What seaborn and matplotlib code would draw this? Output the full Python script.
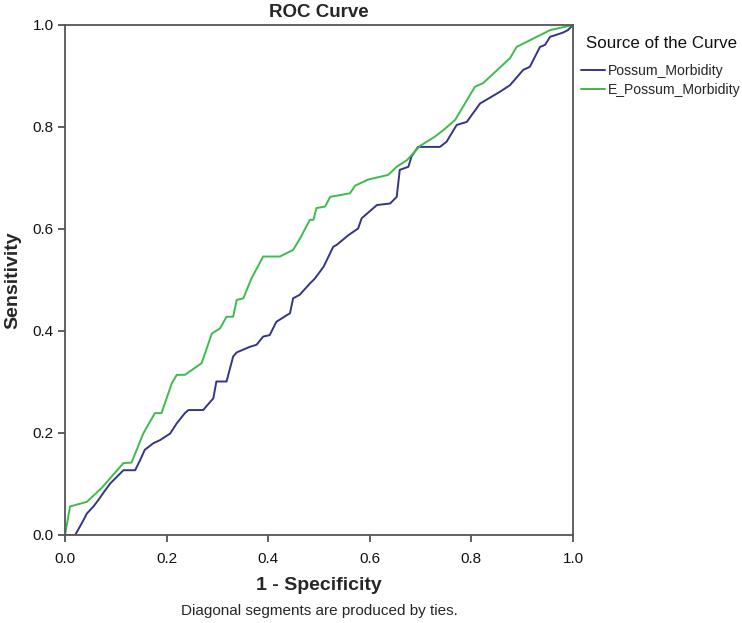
import numpy as np
import pandas as pd
import matplotlib
matplotlib.use("Agg")
import matplotlib.pyplot as plt
import seaborn as sns

# ---- data ----
possum_fpr = [0.0, 0.020, 0.033, 0.043, 0.056, 0.066, 0.075, 0.089, 0.102, 0.115, 0.138, 0.148,
              0.157, 0.174, 0.187, 0.207, 0.220, 0.236, 0.243, 0.272, 0.292, 0.298, 0.318, 0.331,
              0.338, 0.364, 0.377, 0.390, 0.403, 0.416, 0.443, 0.449, 0.462, 0.482, 0.492, 0.509,
              0.528, 0.535, 0.558, 0.577, 0.584, 0.614, 0.640, 0.653, 0.659, 0.676, 0.682, 0.695,
              0.738, 0.751, 0.771, 0.791, 0.801, 0.817, 0.856, 0.876, 0.902, 0.915, 0.935, 0.945,
              0.955, 0.965, 0.980, 0.990, 1.0]
possum_tpr = [0.0, 0.0, 0.023, 0.042, 0.056, 0.069, 0.082, 0.101, 0.114, 0.127, 0.127, 0.147,
              0.167, 0.180, 0.186, 0.199, 0.219, 0.239, 0.245, 0.245, 0.268, 0.301, 0.301, 0.350,
              0.358, 0.369, 0.373, 0.389, 0.392, 0.418, 0.435, 0.464, 0.471, 0.493, 0.503, 0.526,
              0.565, 0.569, 0.588, 0.601, 0.621, 0.647, 0.650, 0.663, 0.716, 0.722, 0.742, 0.761,
              0.761, 0.771, 0.804, 0.810, 0.824, 0.846, 0.869, 0.882, 0.912, 0.918, 0.957, 0.961,
              0.977, 0.980, 0.985, 0.990, 1.0]

e_possum_fpr = [0.0, 0.010, 0.043, 0.072, 0.115, 0.131, 0.154, 0.177, 0.190, 0.210, 0.220, 0.236,
                0.269, 0.289, 0.305, 0.318, 0.331, 0.338, 0.351, 0.367, 0.390, 0.423, 0.449, 0.463,
                0.482, 0.489, 0.495, 0.512, 0.522, 0.561, 0.571, 0.597, 0.636, 0.653, 0.673, 0.699,
                0.728, 0.745, 0.768, 0.807, 0.823, 0.876, 0.889, 0.955, 1.0]
e_possum_tpr = [0.0, 0.056, 0.065, 0.092, 0.141, 0.142, 0.199, 0.239, 0.239, 0.297, 0.314, 0.314,
                0.337, 0.395, 0.405, 0.428, 0.428, 0.461, 0.464, 0.503, 0.546, 0.546, 0.559, 0.582,
                0.618, 0.618, 0.641, 0.644, 0.663, 0.670, 0.685, 0.697, 0.706, 0.722, 0.735, 0.763,
                0.781, 0.794, 0.814, 0.879, 0.886, 0.935, 0.957, 0.990, 1.0]

series_names = ["Possum_Morbidity", "E_Possum_Morbidity"]
series_colors = ["#34348a", "#3dbb4c"]
tick_values = [0.0, 0.2, 0.4, 0.6, 0.8, 1.0]
tick_labels = ["0.0", "0.2", "0.4", "0.6", "0.8", "1.0"]

df = pd.concat([
    pd.DataFrame({"fpr": possum_fpr, "tpr": possum_tpr, "Source": series_names[0]}),
    pd.DataFrame({"fpr": e_possum_fpr, "tpr": e_possum_tpr, "Source": series_names[1]}),
], ignore_index=True)

sns.set_theme(style="white")
plt.rcParams["font.family"] = ["Liberation Sans", "DejaVu Sans"]

W, H = 742, 623
fig = plt.figure(figsize=(W / 100, H / 100), dpi=100)
ax = fig.add_axes([65 / W, 1 - 535 / H, 508 / W, 510 / H])

sns.lineplot(data=df, x="fpr", y="tpr", hue="Source", hue_order=series_names,
             palette=dict(zip(series_names, series_colors)), sort=False, estimator=None,
             units="Source", linewidth=1.4, ax=ax)

ax.set_xlim(0, 1)
ax.set_ylim(0, 1)
ax.set_xticks(tick_values)
ax.set_xticklabels(tick_labels)
ax.set_yticks(tick_values)
ax.set_yticklabels(tick_labels)
ax.tick_params(axis="both", direction="out", length=5, width=1.2, color="#444444",
               labelsize=11, labelcolor="#111111", bottom=True, left=True)
ax.tick_params(axis="x", pad=7)
ax.tick_params(axis="y", pad=3)
for s in ax.spines.values():
    s.set_color("#555555")
    s.set_linewidth(1.3)

ax.set_title("ROC Curve", fontsize=13.5, fontweight="bold", pad=6)
ax.set_ylabel("Sensitivity", fontsize=14, fontweight="bold", labelpad=8)
ax.set_xlabel("1 - Specificity", fontsize=14, fontweight="bold", labelpad=8)
fig.text((65 + 508 / 2) / W, 1 - 611 / H, "Diagonal segments are produced by ties.",
         ha="center", va="center", fontsize=11)

fig.text(586 / W, 1 - 43 / H, "Source of the Curve", ha="left", va="center",
         fontsize=12.2, color="#111111")
leg = ax.legend(loc="upper left", bbox_to_anchor=(581 / W, 1 - 64 / H),
                bbox_transform=fig.transFigure, frameon=False, fontsize=10.1,
                handlelength=1.7, handletextpad=0.2, borderaxespad=0.0, borderpad=0.0,
                labelspacing=0.35)

fig.savefig("out.png", dpi=100)
